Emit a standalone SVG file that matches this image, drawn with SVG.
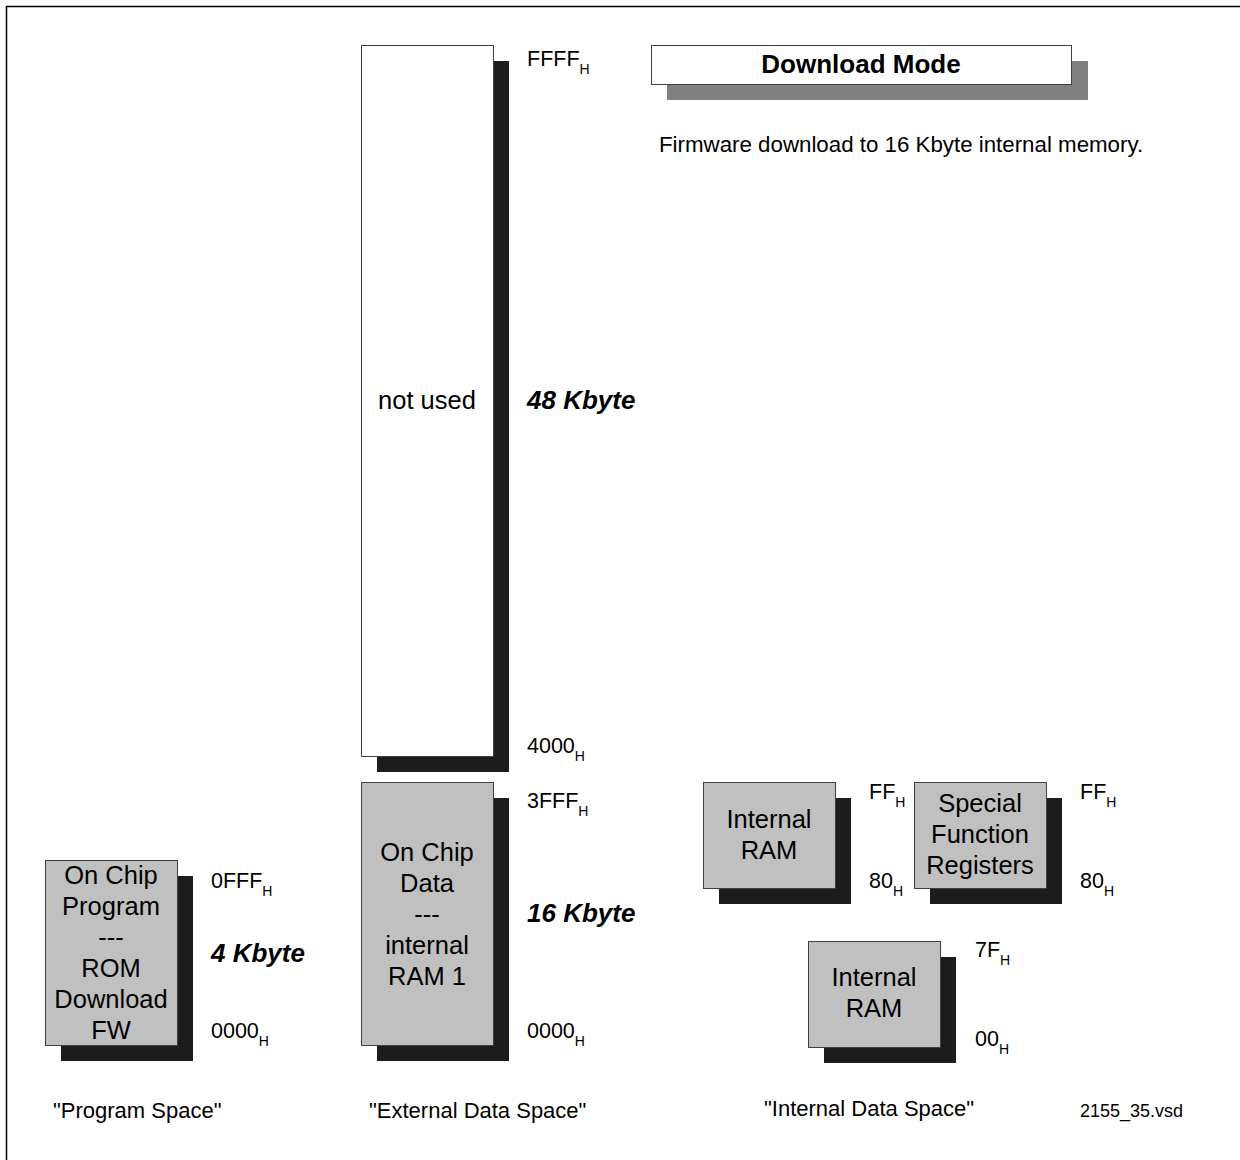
<svg xmlns="http://www.w3.org/2000/svg" width="1240" height="1160" viewBox="0 0 1240 1160">
<style>
text{font-family:"Liberation Sans",Arial,sans-serif;fill:#000}
.box{fill:#c0c0c0;stroke:#404040;stroke-width:1}
.wbox{fill:#fff;stroke:#404040;stroke-width:1}
.sh{fill:#1c1c1c}
.bt{font-size:25.5px;text-anchor:middle}
.hex{font-size:21.5px}
.sub{font-size:14px}
.kb{font-size:26px;font-weight:bold;font-style:italic}
.cap{font-size:22px}
</style>
<rect width="1240" height="1160" fill="#fff"/>
<path d="M6.5,1160 V6.5 H1240" fill="none" stroke="#000" stroke-width="1.5"/>

<g id="title">
<rect x="667" y="61" width="421" height="39" fill="#808080"/>
<rect x="651.5" y="45.5" width="420" height="39" fill="#fff" stroke="#404040"/>
<text x="861" y="73" font-size="26" font-weight="bold" text-anchor="middle">Download Mode</text>
</g>
<text x="659" y="152" font-size="22.3">Firmware download to 16 Kbyte internal memory.</text>

<g id="not-used">
<rect class="sh" x="377" y="61" width="132" height="711"/>
<rect class="wbox" x="361.5" y="45.5" width="132" height="711"/>
<text class="bt" x="427" y="409">not used</text>
</g>
<g id="on-chip-data">
<rect class="sh" x="377" y="798" width="132" height="263"/>
<rect class="box" x="361.5" y="782.5" width="132" height="263"/>
<text class="bt" x="427" y="861">On Chip</text>
<text class="bt" x="427" y="892">Data</text>
<text class="bt" x="427" y="923">---</text>
<text class="bt" x="427" y="954">internal</text>
<text class="bt" x="427" y="985">RAM 1</text>
</g>
<g id="on-chip-program">
<rect class="sh" x="61" y="876" width="132" height="185"/>
<rect class="box" x="45.5" y="860.5" width="132" height="185"/>
<text class="bt" x="111" y="884">On Chip</text>
<text class="bt" x="111" y="915">Program</text>
<text class="bt" x="111" y="946">---</text>
<text class="bt" x="111" y="977">ROM</text>
<text class="bt" x="111" y="1008">Download</text>
<text class="bt" x="111" y="1039">FW</text>
</g>
<g id="internal-ram-high">
<rect class="sh" x="719" y="798" width="132" height="106"/>
<rect class="box" x="703.5" y="782.5" width="132" height="106"/>
<text class="bt" x="769" y="828">Internal</text>
<text class="bt" x="769" y="859">RAM</text>
</g>
<g id="sfr">
<rect class="sh" x="930" y="798" width="132" height="106"/>
<rect class="box" x="914.5" y="782.5" width="132" height="106"/>
<text class="bt" x="980" y="812">Special</text>
<text class="bt" x="980" y="843">Function</text>
<text class="bt" x="980" y="874">Registers</text>
</g>
<g id="internal-ram-low">
<rect class="sh" x="824" y="957" width="132" height="106"/>
<rect class="box" x="808.5" y="941.5" width="132" height="106"/>
<text class="bt" x="874" y="986">Internal</text>
<text class="bt" x="874" y="1017">RAM</text>
</g>
<g id="connectors"></g>

<g id="labels">
<text class="hex" x="527" y="66">FFFF<tspan class="sub" dy="8">H</tspan></text>
<text class="hex" x="527" y="753">4000<tspan class="sub" dy="8">H</tspan></text>
<text class="hex" x="527" y="808">3FFF<tspan class="sub" dy="8">H</tspan></text>
<text class="hex" x="527" y="1038">0000<tspan class="sub" dy="8">H</tspan></text>
<text class="hex" x="211" y="888">0FFF<tspan class="sub" dy="8">H</tspan></text>
<text class="hex" x="211" y="1038">0000<tspan class="sub" dy="8">H</tspan></text>
<text class="hex" x="869" y="799">FF<tspan class="sub" dy="8">H</tspan></text>
<text class="hex" x="869" y="888">80<tspan class="sub" dy="8">H</tspan></text>
<text class="hex" x="1080" y="799">FF<tspan class="sub" dy="8">H</tspan></text>
<text class="hex" x="1080" y="888">80<tspan class="sub" dy="8">H</tspan></text>
<text class="hex" x="975" y="957">7F<tspan class="sub" dy="8">H</tspan></text>
<text class="hex" x="975" y="1046">00<tspan class="sub" dy="8">H</tspan></text>
<text class="kb" x="527" y="409">48 Kbyte</text>
<text class="kb" x="527" y="922">16 Kbyte</text>
<text class="kb" x="211" y="962">4 Kbyte</text>
<text class="cap" x="53" y="1118">"Program Space"</text>
<text class="cap" x="369" y="1118">"External Data Space"</text>
<text class="cap" x="764" y="1116">"Internal Data Space"</text>
<text x="1080" y="1117" font-size="18">2155_35.vsd</text>
</g>
</svg>
